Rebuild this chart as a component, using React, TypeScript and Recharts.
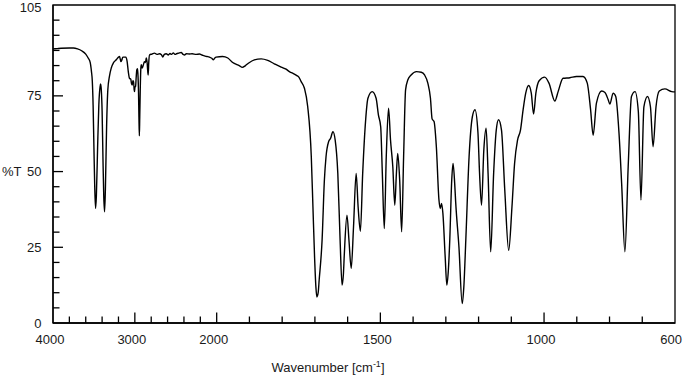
import React from "react";
import { LineChart, Line, XAxis, YAxis, ReferenceArea } from "recharts";

const wavenumbers = [
  4000, 3950, 3900, 3800, 3750, 3700, 3650, 3600, 3570, 3545, 3530, 3520, 3510, 3500, 3490, 3480, 3470, 3455,
  3440, 3425, 3418, 3410, 3400, 3390, 3380, 3370, 3360, 3345, 3330, 3310, 3288, 3260, 3227, 3200, 3187, 3170,
  3160, 3146, 3110, 3095, 3080, 3065, 3050, 3040, 3032, 3024, 3016, 3008, 3004, 2998, 2991, 2984, 2976, 2968,
  2963, 2955, 2950, 2945, 2940, 2934, 2927, 2922, 2910, 2902, 2890, 2882, 2870, 2861, 2850, 2842, 2837, 2830,
  2821, 2790, 2760, 2730, 2699, 2675, 2659, 2640, 2617, 2590, 2570, 2552, 2530, 2510, 2491, 2465, 2434, 2410,
  2394, 2370, 2333, 2300, 2250, 2211, 2180, 2150, 2120, 2089, 2060, 2040, 2020, 2007, 1982, 1966, 1951, 1940,
  1930, 1922, 1912, 1905, 1885, 1864, 1844, 1824, 1803, 1788, 1778, 1768, 1755, 1749, 1742, 1732, 1722, 1711,
  1706, 1701, 1697, 1694, 1690, 1687, 1678, 1671, 1666, 1658, 1652, 1645, 1638, 1630, 1623, 1617, 1613, 1610,
  1602, 1596, 1589, 1582, 1574, 1568, 1561, 1554, 1545, 1538, 1525, 1513, 1506, 1499, 1494, 1488, 1482, 1475,
  1469, 1462, 1456, 1451, 1447, 1441, 1435, 1429, 1423, 1416, 1406, 1390, 1375, 1365, 1355, 1347, 1342, 1336,
  1329, 1321, 1317, 1313, 1309, 1302, 1297, 1292, 1288, 1282, 1278, 1273, 1270, 1260, 1250, 1245, 1239, 1229,
  1219, 1211, 1202, 1197, 1191, 1184, 1177, 1171, 1163, 1154, 1146, 1139, 1130, 1120, 1108, 1098, 1090, 1081,
  1072, 1064, 1056, 1047, 1039, 1032, 1025, 1015, 998, 985, 967, 957, 942, 921, 901, 881, 868, 858,
  850, 840, 824, 814, 804, 799, 789, 781, 771, 763, 753, 743, 733, 722, 712, 704, 695, 684,
  675, 667, 658, 648, 631, 610, 600,
];

// %T at each wavenumber above
const transmittance = [
  90.5, 90.6, 90.7, 90.8, 90.8, 90.5, 89.9, 88.8, 87.5, 86, 83, 80, 72, 58, 45, 37.8, 42, 58,
  72, 78, 78.9, 77, 70, 55, 42, 36.7, 44, 65, 77, 81.5, 84.2, 86, 86.9, 87.8, 88, 86.3,
  86.8, 87.8, 87.8, 86.5, 83, 80.8, 80.5, 79, 78.6, 80, 79.7, 77, 76.4, 78, 78.1, 81, 83.6, 84,
  82.5, 76, 68, 61.8, 68, 77, 84, 85.3, 84.2, 84.7, 85.8, 86.3, 86, 87.5, 86, 83, 81.9, 86,
  88.5, 88.8, 89.1, 88.7, 88.9, 88.6, 87.8, 88.7, 88.9, 88.5, 89, 88.7, 89.2, 88.7, 88.9, 89.1, 89.3, 88.7,
  88.5, 88.9, 88.8, 88.9, 88.7, 88.8, 88.5, 88.2, 88, 87.8, 87.4, 86.9, 87.6, 87.8, 88, 87.5, 86, 85.4,
  84.9, 84.4, 85, 85.6, 86.9, 87.2, 86.7, 85.6, 84.5, 83.8, 83, 82.5, 81.7, 81.2, 79.7, 77.5, 71.5, 54.9,
  38.4, 21.8, 12, 8.6, 10, 14.1, 27.4, 47.2, 54.9, 59.9, 61, 63.2, 60.4, 49.4, 27.4, 12.5, 16, 23,
  35.6, 27.4, 18, 31.8, 49.4, 38.4, 30.3, 49.4, 67, 74.2, 76.4, 74.2, 68.7, 64.8, 49.4, 31.2, 54.9, 70.9,
  60.4, 51.6, 38.9, 49.4, 56, 47.2, 30.1, 54.9, 77, 80.3, 81.9, 83, 82.8, 81.9, 79.2, 74.2, 67.4, 66.5,
  58.2, 40.6, 37.8, 39.5, 36.2, 21.8, 12.5, 18, 27.4, 47.2, 52.7, 46.1, 40, 25.1, 6.4, 12, 27.4, 54.9,
  68.1, 70.4, 63, 49.4, 38.9, 57.1, 64.3, 49.4, 23.5, 49.4, 63.7, 67.1, 63.7, 43.9, 24, 38.4, 52.7, 60.4,
  63.7, 70.4, 75.9, 78.4, 75.9, 69, 75.9, 80, 81.2, 79.2, 73.3, 76.4, 80.8, 81, 81.4, 81.4, 79.2, 70.6,
  62, 72.6, 76.6, 76.1, 73.7, 72.3, 75.9, 74.8, 62.6, 46.1, 23.5, 51.6, 74.8, 76.4, 69.8, 40.6, 71.4, 74.8,
  71.4, 58.2, 71.4, 76.6, 77.3, 76.4, 76.3,
];

const xTickWn = [3800, 3600, 3400, 3200, 3000, 2800, 2600, 2400, 2200, 2000, 1900, 1800, 1700, 1600, 1500, 1400, 1300, 1200, 1100, 1000, 900, 800, 700];
const xLabelWn = [4000, 3000, 2000, 1500, 1000, 600];
const xMajorWn = [3000, 2000, 1500, 1000];
const yTicks = [0, 5, 10, 15, 20, 25, 30, 35, 40, 45, 50, 55, 60, 65, 70, 75, 80, 85, 90, 95, 100, 105];
const yLabels = [0, 25, 50, 75, 105];
const yMajor = [25, 50, 75];

// the axis is compressed 4x above 2000 cm-1
const toPos = (wn: number) => (wn >= 2000 ? (4000 - wn) / 4 : 500 + (2000 - wn));
const fromPos = (p: number) => (p <= 500 ? Math.round(4000 - p * 4) : Math.round(2000 - (p - 500)));

const spectrum = wavenumbers.map((wn, i) => ({ pos: toPos(wn), t: transmittance[i] }));
const xTickPos = Array.from(new Set([...xTickWn, ...xLabelWn])).map(toPos).sort((a, b) => a - b);

const font = "'Liberation Sans', Arial, sans-serif";
const ink = "#1a1a1a";

const XTick = (props: any) => {
  const { x, y, payload } = props;
  const wn = fromPos(payload.value);
  const len = xMajorWn.includes(wn) ? 10.5 : 6.5;
  const edge = wn === 4000 || wn === 600;
  return (
    <g>
      {!edge && <line x1={x} x2={x} y1={y} y2={y - len} stroke="#000" strokeWidth={1.3} />}
      {xLabelWn.includes(wn) && (
        <text x={wn === 600 ? x + 7 : x - 3} y={y + 21} textAnchor={wn === 600 ? "end" : "middle"} fontSize={13} fontFamily={font} fill={ink}>
          {wn}
        </text>
      )}
    </g>
  );
};

const YTick = (props: any) => {
  const { x, y, payload } = props;
  const v = payload.value;
  const len = yMajor.includes(v) ? 10 : 6.5;
  return (
    <g>
      {v !== 0 && v !== 105 && <line x1={x} x2={x + len} y1={y} y2={y} stroke="#000" strokeWidth={1.3} />}
      {yLabels.includes(v) && (
        <text x={x - 11.5} y={v === 105 ? y + 6.6 : y + 4.6} textAnchor="end" fontSize={13} fontFamily={font} fill={ink}>
          {v}
        </text>
      )}
    </g>
  );
};

const XTitle = (props: any) => {
  const vb = props.viewBox;
  const cx = vb.x + vb.width / 2 - 36;
  return (
    <text x={cx} y={371.5} textAnchor="middle" fontSize={13} fontFamily={font} fill={ink}>
      Wavenumber [cm
      <tspan fontSize={9} dy={-5}>-1</tspan>
      <tspan dy={5}>]</tspan>
    </text>
  );
};

const YTitle = (props: any) => {
  const vb = props.viewBox;
  const y = vb.y + vb.height * (1 - 50 / 105) + 4.6;
  return (
    <text x={2} y={y} textAnchor="start" fontSize={13} fontFamily={font} fill={ink}>
      %T
    </text>
  );
};

export default function App() {
  return (
    <div style={{ position: "absolute", left: 0, top: 0, background: "#fff" }}>
      <LineChart width={683} height={375} data={spectrum} margin={{ top: 5, right: 8, left: 8, bottom: 0 }}>
        <XAxis
          dataKey="pos"
          type="number"
          domain={[0, 1900]}
          ticks={xTickPos}
          interval={0}
          height={52}
          tickSize={0}
          tickMargin={0}
          tick={<XTick />}
          axisLine={{ stroke: "#000", strokeWidth: 1.3 }}
          tickLine={false}
          label={<XTitle />}
          allowDataOverflow
        />
        <YAxis
          type="number"
          domain={[0, 105]}
          ticks={yTicks}
          interval={0}
          width={45}
          tickSize={0}
          tickMargin={0}
          tick={<YTick />}
          axisLine={{ stroke: "#000", strokeWidth: 1.3 }}
          tickLine={false}
          label={<YTitle />}
          allowDataOverflow
        />
        <ReferenceArea x1={0} x2={1900} y1={0} y2={105} fill="none" stroke="#000" strokeWidth={1.3} />
        <Line
          type="monotone"
          dataKey="t"
          stroke="#000"
          strokeWidth={1.4}
          dot={false}
          activeDot={false}
          isAnimationActive={false}
        />
      </LineChart>
    </div>
  );
}
